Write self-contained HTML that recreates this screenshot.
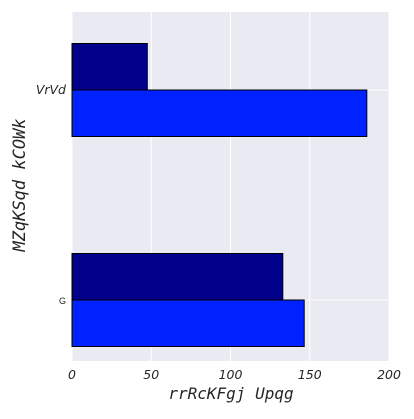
<!DOCTYPE html>
<html><head><meta charset="utf-8"><style>body{margin:0;background:#fff}</style></head>
<body>
<svg width="414" height="414" xmlns="http://www.w3.org/2000/svg">
<rect x="72" y="12" width="317" height="349" fill="#eaeaf2"/>
<g id="grid"></g>
<g id="bars"></g>
<g id="ticks"></g>
<text x="231" y="399" text-anchor="middle" font-family="DejaVu Sans Mono, monospace" font-style="italic" font-size="16" fill="#262626">rrRcKFgj Upqg</text>
<text transform="translate(25,185) rotate(-90)" text-anchor="middle" font-family="DejaVu Sans Mono, monospace" font-style="italic" font-size="17" fill="#262626">MZqKSqd kCOWk</text>
</svg>
<script>
const categories = ["VrVd", "G"];
const series1 = [47.5, 133];
const series2 = [186, 146.5];
const xTicks = [0, 50, 100, 150, 200];
const ns = "http://www.w3.org/2000/svg";
const x = v => 72 + v * 317 / 200;
const yc = i => 90 + i * 210;
function mk(tag, attrs, parent) {
  const el = document.createElementNS(ns, tag);
  for (const k in attrs) el.setAttribute(k, attrs[k]);
  parent.appendChild(el);
  return el;
}
const grid = document.getElementById('grid'), bars = document.getElementById('bars'), ticks = document.getElementById('ticks');
xTicks.forEach(t => {
  const l = mk('line', {x1: x(t), x2: x(t), y1: 12, y2: 361, stroke: '#fff', 'stroke-width': 1}, grid);
  
  
  const tx = mk('text', {x: x(t), y: 379, 'text-anchor': 'middle', 'font-family': 'DejaVu Sans, sans-serif', 'font-style': 'italic', 'font-size': 12.5, fill: '#262626'}, ticks);
  tx.textContent = t;
  
  
});
categories.forEach((c, i) => {
  const l = mk('line', {x1: 72, x2: 389, y1: yc(i), y2: yc(i), stroke: '#fff', 'stroke-width': 1}, grid);
  
  
  const b1 = mk('rect', {x: x(0), y: yc(i) - 46.5, width: x(series1[i]) - x(0), height: 46.5, fill: '#00008b', stroke: '#000', 'stroke-width': 1}, bars);
  
  
  const b2 = mk('rect', {x: x(0), y: yc(i), width: x(series2[i]) - x(0), height: 46.5, fill: '#0022ff', stroke: '#000', 'stroke-width': 1}, bars);
  
  
  const t = mk('text', {x: 66, y: yc(i) + 4, 'text-anchor': 'end', 'font-family': i === 0 ? 'DejaVu Sans, sans-serif' : 'Liberation Sans, sans-serif', 'font-style': i === 0 ? 'italic' : 'normal', 'font-size': i === 0 ? 12.5 : 9, fill: '#262626'}, ticks);
  t.textContent = c;
  
  
});
</script>
</body></html>
